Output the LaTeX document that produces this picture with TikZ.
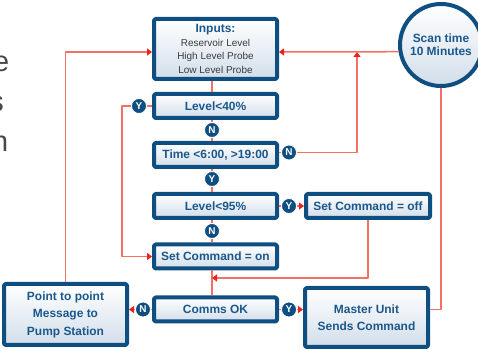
\documentclass[tikz,border=0pt]{standalone}
\usepackage{fontspec}
\setmainfont{Liberation Sans}
\usetikzlibrary{arrows,arrows.meta,shapes}
\usepackage{xcolor}
\definecolor{boxblue}{RGB}{14,78,128}
\definecolor{textblue}{RGB}{26,88,140}
\definecolor{fillblue}{RGB}{210,222,234}
\definecolor{linered}{RGB}{243,112,102}
\definecolor{tipred}{RGB}{232,36,28}
\definecolor{inputgray}{RGB}{60,60,60}
\definecolor{parggray}{RGB}{72,72,72}

\begin{document}
\begin{tikzpicture}[line join=bevel,
    box/.style={draw=boxblue, line width=4bp, rounded corners=1.5bp, top color=white, bottom color=fillblue, minimum width=123bp, minimum height=24bp, inner sep=2bp, align=center, text=textblue, font=\fontsize{12}{17.5}\selectfont\bfseries},
    badge/.style={circle, fill=boxblue, draw=white, line width=0.8bp, minimum size=15bp, inner sep=0pt, text=white, font=\fontsize{10}{10}\selectfont\bfseries},
    link/.style={draw=linered, line width=1.5bp},
    redtip/.style={-{Triangle[length=5bp,width=7bp,color=tipred]}},
    ]
    \useasboundingbox (0,0) rectangle (478bp,351bp);
    %%
    \node (txte) at (9.5bp,279bp) [anchor=base east, inner sep=0pt, text=parggray, font=\fontsize{29}{30}\selectfont] {e};
    \node (txts) at (4bp,239bp) [anchor=base east, inner sep=0pt, text=parggray, font=\fontsize{29}{30}\selectfont] {s};
    \node (txtn) at (8.5bp,199bp) [anchor=base east, inner sep=0pt, text=parggray, font=\fontsize{29}{30}\selectfont] {n};
    %%
    \node (inputs) at (215.5bp,302bp) [box, minimum height=60bp, text=inputgray, font=\fontsize{10}{13.5}\selectfont] {{\fontsize{12}{13}\selectfont\bfseries\color{textblue}Inputs:}\\ Reservoir Level\\ High Level Probe\\ Low Level Probe};
    \node (lvlforty) at (215.5bp,245bp) [box] {Level<40\%};
    \node (time) at (215.5bp,196bp) [box] {Time <6:00, >19:00};
    \node (lvlninetyfive) at (215.5bp,145bp) [box] {Level<95\%};
    \node (seton) at (215.5bp,94.5bp) [box] {Set Command = on};
    \node (comms) at (215.5bp,41.5bp) [box] {Comms OK};
    \node (setoff) at (368bp,145bp) [box, minimum width=124bp] {Set Command = off};
    \node (master) at (366.5bp,33.5bp) [box, minimum height=59bp] {Master Unit\\Sends Command};
    \node (ptop) at (65.5bp,36.5bp) [box, minimum height=61bp] {Point to point\\Message to\\Pump Station};
    \node (scan) at (441bp,306bp) [box, circle, minimum size=82bp, inner sep=0pt, font=\fontsize{12}{13.5}\selectfont\bfseries] {Scan time\\10 Minutes};
    %
    \node (yforty) at (139bp,245bp) [badge] {Y};
    \node (nforty) at (212bp,221bp) [badge] {N};
    \node (ntime) at (289bp,198.5bp) [badge] {N};
    \node (ytime) at (212bp,172bp) [badge] {Y};
    \node (yninetyfive) at (289bp,145bp) [badge] {Y};
    \node (nninetyfive) at (212bp,120bp) [badge] {N};
    \node (ncomms) at (143bp,41.5bp) [badge] {N};
    \node (ycomms) at (289bp,41.5bp) [badge] {Y};
    %
    \coordinate (lloop) at (122bp,245bp);
    \coordinate (tap) at (357bp,299bp);
    \coordinate (merge) at (212bp,73bp);
    %% main column
    \draw [link] (inputs.south -| nforty) -- (lvlforty.north -| nforty);
    \draw [link] (lvlforty.south -| nforty) -- (nforty) -- (nforty |- time.north);
    \draw [link] (time.south -| ytime) -- (ytime) -- (ytime |- lvlninetyfive.north);
    \draw [link] (lvlninetyfive.south -| nninetyfive) -- (nninetyfive) -- (nninetyfive |- seton.north);
    \draw [link] (seton.south -| nninetyfive) -- (comms.north -| nninetyfive);
    %% branches
    \draw [link,redtip] (lvlforty) -- (yforty) -- (lloop) |- (seton);
    \draw [link] (time.east |- ntime) -- (ntime);
    \draw [link,redtip] (ntime) -| (tap);
    \draw [link] (lvlninetyfive) -- (yninetyfive);
    \draw [link,redtip] (yninetyfive) -- (setoff);
    \draw [link,redtip] (setoff) |- (merge);
    \draw [link] (comms) -- (ncomms);
    \draw [link,redtip] (ncomms) -- (ptop.east |- ncomms);
    \draw [link] (comms) -- (ycomms);
    \draw [link,redtip] (ycomms) -- (master.west |- ycomms);
    \draw [link] (master.east |- ycomms) -| (scan);
    \draw [link,redtip] (scan.189) -- (inputs.east |- tap);
    \draw [link,redtip] (ptop) |- (inputs.west |- tap);
    %
\end{tikzpicture}
\end{document}
